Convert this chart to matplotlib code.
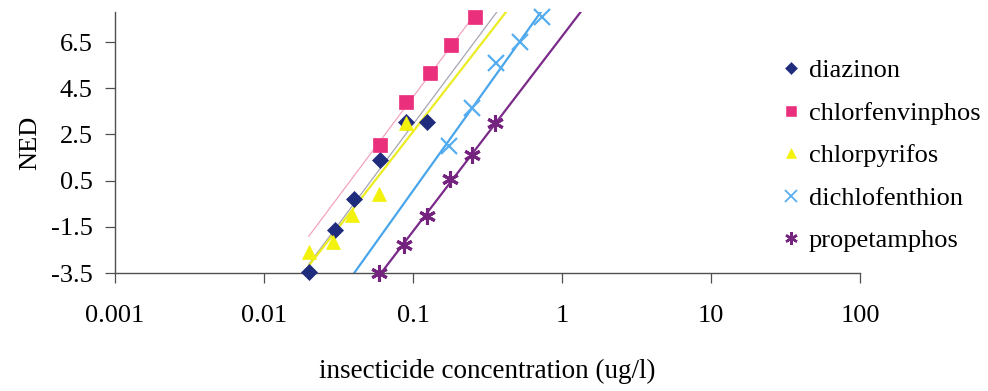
import numpy as np
import matplotlib
matplotlib.use("Agg")
import matplotlib.pyplot as plt
from matplotlib.lines import Line2D

plt.rcParams['font.family'] = ['Liberation Serif', 'DejaVu Serif']

# NED probit values against insecticide concentration (ug/l)
diazinon_x = [0.02, 0.03, 0.04, 0.06, 0.09, 0.125]
diazinon_y = [-3.45, -1.65, -0.3, 1.4, 3.05, 3.05]

chlorfenvinphos_x = [0.06, 0.09, 0.13, 0.18, 0.26]
chlorfenvinphos_y = [2.05, 3.9, 5.15, 6.35, 7.6]

chlorpyrifos_x = [0.02, 0.029, 0.039, 0.059, 0.09]
chlorpyrifos_y = [-2.6, -2.15, -1.0, -0.1, 3.0]

dichlofenthion_x = [0.175, 0.25, 0.36, 0.52, 0.73]
dichlofenthion_y = [2.0, 3.65, 5.6, 6.5, 7.6]

propetamphos_x = [0.059, 0.087, 0.125, 0.177, 0.25, 0.355]
propetamphos_y = [-3.5, -2.3, -1.05, 0.55, 1.6, 3.0]

series_names = ["diazinon", "chlorfenvinphos", "chlorpyrifos",
                "dichlofenthion", "propetamphos"]

x_ticks = [0.001, 0.01, 0.1, 1, 10, 100]
x_tick_labels = ["0.001", "0.01", "0.1", "1", "10", "100"]
y_ticks = [-3.5, -1.5, 0.5, 2.5, 4.5, 6.5]
y_tick_labels = ["-3.5", "-1.5", "0.5", "2.5", "4.5", "6.5"]

styles = {
    "diazinon":        dict(marker="D", color="#1f2b7c", ms=8.5, mew=0.5,
                            trend="#a6a6b4", tlw=0.9),
    "chlorfenvinphos": dict(marker="s", color="#ea2f7c", ms=9.5, mew=0.5,
                            trend="#f3a3bf", tlw=0.9),
    "chlorpyrifos":    dict(marker="^", color="#f2f20c", ms=10.5, mew=0.5,
                            trend="#ecec22", tlw=1.6),
    "dichlofenthion":  dict(marker="x", color="#56aef0", ms=11, mew=1.6,
                            trend="#4aa6ea", tlw=1.6),
    "propetamphos":    dict(marker=(6, 2, 0), color="#74247e", ms=12, mew=2.2,
                            trend="#7a2a88", tlw=1.6),
}

data = {
    "diazinon": (diazinon_x, diazinon_y),
    "chlorfenvinphos": (chlorfenvinphos_x, chlorfenvinphos_y),
    "chlorpyrifos": (chlorpyrifos_x, chlorpyrifos_y),
    "dichlofenthion": (dichlofenthion_x, dichlofenthion_y),
    "propetamphos": (propetamphos_x, propetamphos_y),
}

fig = plt.figure(figsize=(9.88, 3.91), dpi=100)
ax = fig.add_axes([115 / 988, 1 - 273 / 391, (860 - 115) / 988, (273 - 12) / 391])

ax.set_xscale("log")
ax.set_xlim(0.001, 100)
ax.set_ylim(-3.5, 7.8)

# logarithmic trend lines, y = a*log10(x) + b, forecast across the plot area
trend_x = np.logspace(np.log10(0.02), 2, 200)
for name in series_names:
    xs, ys = data[name]
    st = styles[name]
    a, b = np.polyfit(np.log10(xs), ys, 1)
    ax.plot(trend_x, a * np.log10(trend_x) + b, color=st["trend"],
            lw=st["tlw"], zorder=2, clip_on=True)

for name in series_names:
    xs, ys = data[name]
    st = styles[name]
    ax.plot(xs, ys, linestyle="none", marker=st["marker"], ms=st["ms"],
            mew=st["mew"], color=st["color"], mec=st["color"], zorder=3,
            clip_on=False)

for side in ("top", "right"):
    ax.spines[side].set_visible(False)
for side in ("left", "bottom"):
    ax.spines[side].set_color("#505050")
    ax.spines[side].set_linewidth(1.0)

ax.set_xticks(x_ticks)
ax.set_xticklabels(x_tick_labels)
ax.xaxis.set_minor_locator(matplotlib.ticker.NullLocator())
ax.set_yticks(y_ticks)
ax.set_yticklabels(y_tick_labels)
ax.tick_params(axis="x", direction="out", length=7, width=0.9, color="#505050",
               labelsize=19, pad=16)
ax.tick_params(axis="y", direction="out", length=7, width=0.9, color="#505050",
               labelsize=19, pad=9)

ax.set_xlabel("insecticide concentration (ug/l)", fontsize=19.5, labelpad=23)
ax.set_ylabel("NED", fontsize=19, labelpad=7)

handles = []
for name in series_names:
    st = styles[name]
    handles.append(Line2D([], [], linestyle="none", marker=st["marker"],
                          ms=st["ms"] * 0.75, mew=st["mew"] * 0.8,
                          color=st["color"], mec=st["color"], label=name))
fig.legend(handles=handles, loc="upper left",
           bbox_to_anchor=(780 / 988, 1 - 59 / 391), frameon=False,
           fontsize=19, handlelength=0.8, handletextpad=0.3,
           labelspacing=0.72, borderpad=0, borderaxespad=0)

fig.savefig("out.png", dpi=100)
